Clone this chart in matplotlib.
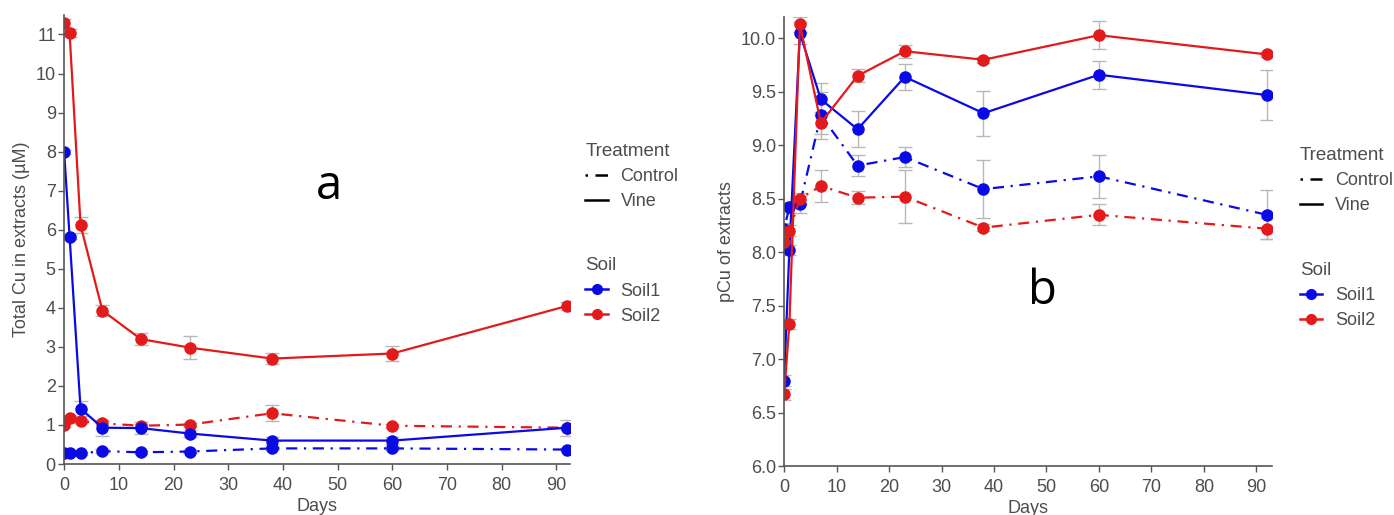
import matplotlib
matplotlib.use("Agg")
import matplotlib.pyplot as plt
from matplotlib.lines import Line2D

plt.rcParams['font.family'] = ['Liberation Sans', 'DejaVu Sans']

days = [0, 1, 3, 7, 14, 23, 38, 60, 92]

# panel a: total Cu in extracts (uM)
cu_soil1_vine = [8.0, 5.82, 1.42, 0.93, 0.92, 0.78, 0.60, 0.60, 0.93]
cu_soil1_vine_err = [0.05, 0.05, 0.2, 0.2, 0.15, 0.08, 0.1, 0.1, 0.2]
cu_soil1_ctrl = [0.27, 0.27, 0.27, 0.33, 0.30, 0.32, 0.40, 0.40, 0.37]
cu_soil1_ctrl_err = [0.03, 0.03, 0.03, 0.05, 0.04, 0.04, 0.05, 0.05, 0.04]
cu_soil2_vine = [11.3, 11.03, 6.12, 3.93, 3.20, 2.98, 2.70, 2.83, 4.05]
cu_soil2_vine_err = [0.1, 0.1, 0.2, 0.15, 0.15, 0.3, 0.15, 0.2, 0.1]
cu_soil2_ctrl = [1.0, 1.18, 1.10, 1.04, 0.98, 1.01, 1.30, 0.98, 0.93]
cu_soil2_ctrl_err = [0.05, 0.05, 0.05, 0.05, 0.05, 0.05, 0.2, 0.05, 0.05]

# panel b: pCu of extracts
pcu_soil1_vine = [6.80, 8.02, 10.05, 9.43, 9.15, 9.64, 9.30, 9.66, 9.47]
pcu_soil1_vine_err = [0.05, 0.05, 0.1, 0.15, 0.17, 0.12, 0.21, 0.13, 0.23]
pcu_soil1_ctrl = [8.22, 8.42, 8.45, 9.28, 8.81, 8.89, 8.59, 8.71, 8.35]
pcu_soil1_ctrl_err = [0.05, 0.05, 0.08, 0.22, 0.1, 0.09, 0.27, 0.2, 0.23]
pcu_soil2_vine = [6.67, 7.33, 10.13, 9.21, 9.65, 9.88, 9.80, 10.03, 9.85]
pcu_soil2_vine_err = [0.05, 0.05, 0.07, 0.1, 0.06, 0.06, 0.03, 0.13, 0.02]
pcu_soil2_ctrl = [8.10, 8.20, 8.50, 8.62, 8.51, 8.52, 8.23, 8.35, 8.22]
pcu_soil2_ctrl_err = [0.05, 0.05, 0.05, 0.15, 0.06, 0.25, 0.03, 0.1, 0.1]

blue = '#0a0ae6'
red = '#e31a1c'
err_col = '#b8b8b8'
dotdash = (0, (1, 3, 5, 3))
axis_col = '#555555'
text_col = '#4d4d4d'
fs = 13


def draw_series(ax, y, yerr, color, ls):
    ax.errorbar(days, y, yerr=yerr, color=color, ls=ls, lw=1.6,
                marker='o', ms=8, ecolor=err_col, elinewidth=1.0,
                capsize=5, capthick=1.0)


def style_axis(ax):
    for side in ['top', 'right']:
        ax.spines[side].set_visible(False)
    for side in ['left', 'bottom']:
        ax.spines[side].set_color(axis_col)
        ax.spines[side].set_linewidth(1.2)
    ax.tick_params(colors=axis_col, labelcolor=text_col, labelsize=fs,
                   length=4, width=1, pad=2)
    ax.tick_params(axis='x', pad=5)
    ax.set_xticks(range(0, 100, 10))
    ax.set_xlabel('Days', fontsize=fs, color=text_col, labelpad=3)


def add_legends(ax, x, y):
    treat = [Line2D([], [], color='black', ls=dotdash, lw=1.8),
             Line2D([], [], color='black', ls='-', lw=1.8)]
    soil = [Line2D([], [], color=blue, marker='o', ms=7, lw=1.8),
            Line2D([], [], color=red, marker='o', ms=7, lw=1.8)]
    kw = dict(frameon=False, fontsize=13, title_fontsize=13.5, handlelength=1.25,
              labelcolor=text_col, alignment='left', borderaxespad=0,
              borderpad=0, handletextpad=0.7, labelspacing=0.45,
              loc='upper left')
    l1 = ax.legend(treat, ['Control', 'Vine'], title='Treatment',
                   bbox_to_anchor=(x, y), **kw)
    l1.get_title().set_color(text_col)
    ax.add_artist(l1)
    l2 = ax.legend(soil, ['Soil1', 'Soil2'], title='Soil',
                   bbox_to_anchor=(x, y - 0.255), **kw)
    l2.get_title().set_color(text_col)


fig = plt.figure(figsize=(13.94, 5.15), dpi=100)

ax1 = fig.add_axes([0.046, 0.099, 0.363, 0.872])
draw_series(ax1, cu_soil2_vine, cu_soil2_vine_err, red, '-')
draw_series(ax1, cu_soil2_ctrl, cu_soil2_ctrl_err, red, dotdash)
draw_series(ax1, cu_soil1_vine, cu_soil1_vine_err, blue, '-')
draw_series(ax1, cu_soil1_ctrl, cu_soil1_ctrl_err, blue, dotdash)
ax1.set_xlim(0, 92.5)
ax1.set_ylim(0, 11.5)
ax1.set_yticks(range(0, 12))
style_axis(ax1)
ax1.set_ylabel('Total Cu in extracts (µM)', fontsize=fs, color=text_col, labelpad=4)
ax1.text(0.497, 0.59, 'a', transform=ax1.transAxes, fontsize=34,
         family=['Open Sans', 'DejaVu Sans'], color='black')
add_legends(ax1, 1.03, 0.715)

ax2 = fig.add_axes([0.5625, 0.095, 0.350, 0.872])
draw_series(ax2, pcu_soil1_vine, pcu_soil1_vine_err, blue, '-')
draw_series(ax2, pcu_soil1_ctrl, pcu_soil1_ctrl_err, blue, dotdash)
draw_series(ax2, pcu_soil2_vine, pcu_soil2_vine_err, red, '-')
draw_series(ax2, pcu_soil2_ctrl, pcu_soil2_ctrl_err, red, dotdash)
ax2.set_xlim(0, 93)
ax2.set_ylim(6.0, 10.2)
ax2.set_yticks([6.0, 6.5, 7.0, 7.5, 8.0, 8.5, 9.0, 9.5, 10.0])
ax2.set_yticklabels(['6.0', '6.5', '7.0', '7.5', '8.0', '8.5', '9.0', '9.5', '10.0'])
style_axis(ax2)
ax2.set_ylabel('pCu of extracts', fontsize=fs, color=text_col, labelpad=4)
ax2.text(0.5, 0.36, 'b', transform=ax2.transAxes, fontsize=34,
         family=['Open Sans', 'DejaVu Sans'], color='black')
add_legends(ax2, 1.057, 0.71)

fig.savefig('out.png', dpi=100)
